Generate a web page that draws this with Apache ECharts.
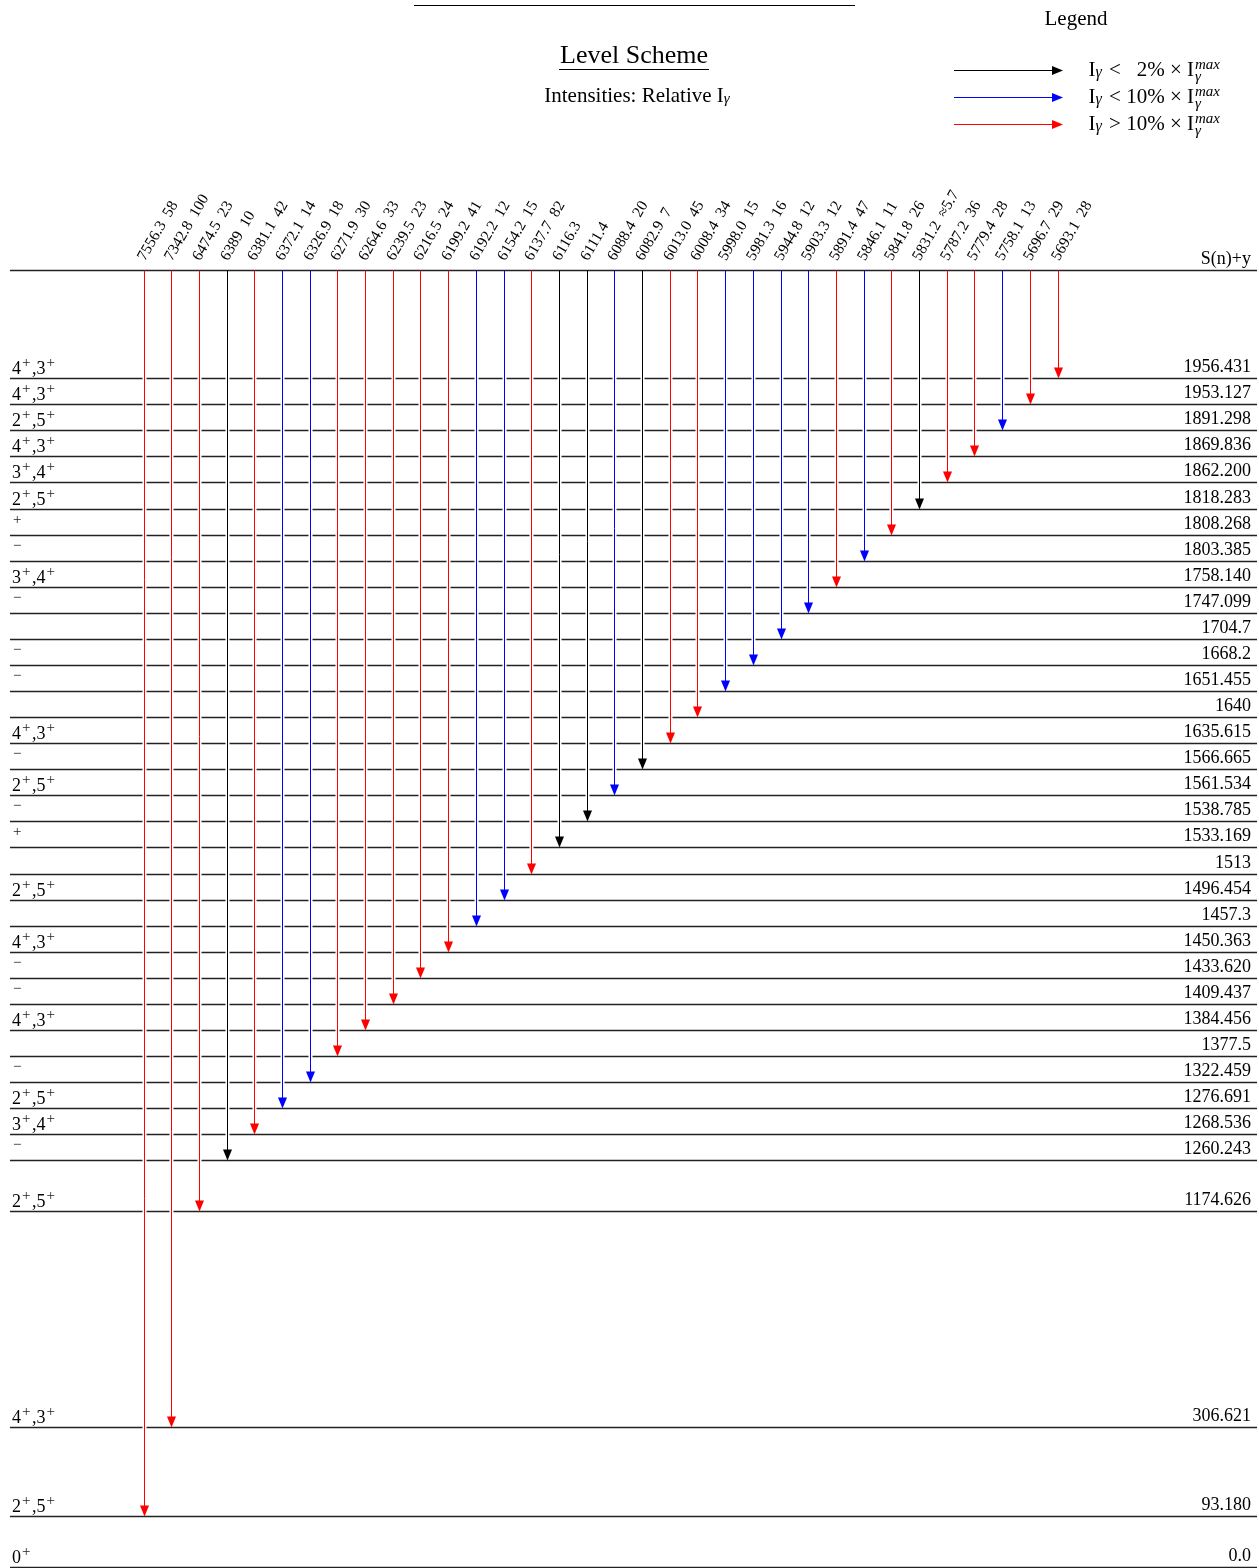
<!DOCTYPE html>
<html>
<head>
<meta charset="utf-8">
<script src="https://cdn.jsdelivr.net/npm/echarts@6/dist/echarts.min.js"></script>
<style>
  html, body { margin: 0; padding: 0; background: #fff; }
  #chart { width: 1259px; height: 1568px; }
</style>
</head>
<body>
<div id="chart"></div>
<script>
// levels, top to bottom; row = vertical slot in the scheme layout
const captureRow = -4.15
const levelEnergy = ['1956.431', '1953.127', '1891.298', '1869.836', '1862.200', '1818.283', '1808.268', '1803.385',
  '1758.140', '1747.099', '1704.7', '1668.2', '1651.455', '1640', '1635.615', '1566.665', '1561.534', '1538.785',
  '1533.169', '1513', '1496.454', '1457.3', '1450.363', '1433.620', '1409.437', '1384.456', '1377.5', '1322.459',
  '1276.691', '1268.536', '1260.243', '1174.626', '306.621', '93.180', '0.0']
const levelRow = [0, 1, 2, 3, 4, 5, 6, 7, 8, 9, 10, 11, 12, 13, 14, 15, 16, 17, 18, 19, 20, 21, 22, 23, 24, 25, 26,
  27, 28, 29, 30, 31.93, 40.21, 43.63, 45.61]
const levelSpin = ['4+,3+', '4+,3+', '2+,5+', '4+,3+', '3+,4+', '2+,5+', '+', '−', '3+,4+', '−', '', '−', '−', '',
  '4+,3+', '−', '2+,5+', '−', '+', '', '2+,5+', '', '4+,3+', '−', '−', '4+,3+', '', '−', '2+,5+', '3+,4+', '−',
  '2+,5+', '4+,3+', '2+,5+', '0+']

// gamma transitions, left to right
const gammaEnergy = ['7556.3', '7342.8', '6474.5', '6389', '6381.1', '6372.1', '6326.9', '6271.9', '6264.6', '6239.5',
  '6216.5', '6199.2', '6192.2', '6154.2', '6137.7', '6116.3', '6111.4', '6088.4', '6082.9', '6013.0', '6008.4',
  '5998.0', '5981.3', '5944.8', '5903.3', '5891.4', '5846.1', '5841.8', '5831.2', '5787.2', '5779.4', '5758.1',
  '5696.7', '5693.1']
const gammaIntensity = ['58', '100', '23', '10', '42', '14', '18', '30', '33', '23', '24', '41', '12', '15', '82', '',
  '', '20', '7', '45', '34', '15', '16', '12', '12', '47', '11', '26', '≈5.7', '36', '28', '13', '29', '28']
const gammaClass = ['hi', 'hi', 'hi', 'lo', 'hi', 'mid', 'mid', 'hi', 'hi', 'hi', 'hi', 'hi', 'mid', 'mid', 'hi', 'lo',
  'lo', 'mid', 'lo', 'hi', 'hi', 'mid', 'mid', 'mid', 'mid', 'hi', 'mid', 'hi', 'lo', 'hi', 'hi', 'mid', 'hi', 'hi']
const gammaFinal = ['93.180', '306.621', '1174.626', '1260.243', '1268.536', '1276.691', '1322.459', '1377.5',
  '1384.456', '1409.437', '1433.620', '1450.363', '1457.3', '1496.454', '1513', '1533.169', '1538.785', '1561.534',
  '1566.665', '1635.615', '1640', '1651.455', '1668.2', '1704.7', '1747.099', '1758.140', '1803.385', '1808.268',
  '1818.283', '1862.200', '1869.836', '1891.298', '1953.127', '1956.431']

const classColor = { lo: '#000000', mid: '#0000ff', hi: '#ff0000' }
const serif = '"Liberation Serif", "DejaVu Serif", serif'

const chart = echarts.init(document.getElementById('chart'))

// digits normal, parity signs as raised superscripts
function spinRich(s) {
  if (!s) return ''
  return s.split(/([+−])/).filter(Boolean).map(t => (t === '+' || t === '−') ? '{s|' + t + '}' : '{n|' + t + '}').join('')
}
const spinStyles = {
  n: { fontSize: 18, lineHeight: 18, fontFamily: serif, fill: '#000', verticalAlign: 'bottom' },
  s: { fontSize: 15, lineHeight: 15, fontFamily: serif, fill: '#222', verticalAlign: 'bottom', padding: [0, 1.5, 7.5, 1] }
}

function renderLevel(params, api) {
  const idx = api.value(1)
  const y = Math.round(api.coord([0, api.value(0)])[1]) + 0.5
  const cs = params.coordSys
  const children = [{
    type: 'line',
    shape: { x1: cs.x, y1: y, x2: cs.x + cs.width, y2: y },
    style: { stroke: '#222', lineWidth: 1.3 }
  }]
  const right = idx < 0 ? 'S(n)+y' : levelEnergy[idx]
  children.push({
    type: 'text', x: cs.x + cs.width - 6, y: y - 2,
    style: { text: right, font: '18px ' + serif, fill: '#000', align: 'right', verticalAlign: 'bottom' }
  })
  if (idx >= 0 && levelSpin[idx]) {
    children.push({
      type: 'text', x: cs.x + 2, y: y - 0.5,
      style: { text: spinRich(levelSpin[idx]), font: '18px ' + serif, fill: '#000', verticalAlign: 'bottom', rich: spinStyles }
    })
  }
  return { type: 'group', children }
}

function renderGamma(params, api) {
  const i = api.value(2)
  const top = api.coord([api.value(0), captureRow])
  const end = api.coord([api.value(0), api.value(1)])
  const x = Math.round(top[0]) + 0.5
  const y1 = Math.round(top[1]) + 0.5
  const y2 = Math.round(end[1]) + 0.5
  const col = classColor[gammaClass[i]]
  const label = gammaEnergy[i] + (gammaIntensity[i] ? '  ' + gammaIntensity[i] : '')
  return {
    type: 'group',
    children: [
      { type: 'line', shape: { x1: x, y1: y1 + 3, x2: x, y2: y2 - 14 }, style: { stroke: '#fff', lineWidth: 4 } },
      { type: 'line', shape: { x1: x, y1: y1, x2: x, y2: y2 - 9 }, style: { stroke: col, lineWidth: 1 } },
      { type: 'polygon', shape: { points: [[x - 4.5, y2 - 11], [x + 4.5, y2 - 11], [x, y2]] }, style: { fill: col } },
      {
        type: 'text', x: x + 4, y: y1 - 7, rotation: 60 * Math.PI / 180,
        style: { text: label, font: '15.5px ' + serif, fill: '#000', align: 'left', verticalAlign: 'bottom' }
      }
    ]
  }
}

function legendRow(y, color, text) {
  return [
    { type: 'line', shape: { x1: 954, y1: y, x2: 1053, y2: y }, style: { stroke: color, lineWidth: 1 } },
    { type: 'polygon', shape: { points: [[1052, y - 4.5], [1063, y], [1052, y + 4.5]] }, style: { fill: color } },
    {
      type: 'text', x: 1194, y: y,
      style: {
        text: text, font: '21px ' + serif, fill: '#000', align: 'right', verticalAlign: 'middle',
        rich: { g: { fontSize: 16, fontStyle: 'italic', fontFamily: serif, verticalAlign: 'bottom', padding: [0, 2, 0, 0] } }
      }
    },
    { type: 'text', x: 1195, y: y - 5, style: { text: 'max', font: 'italic 15px ' + serif, fill: '#000', verticalAlign: 'middle' } },
    { type: 'text', x: 1195, y: y + 7, style: { text: 'γ', font: 'italic 15px ' + serif, fill: '#000', verticalAlign: 'middle' } }
  ]
}

const levelData = [[captureRow, -1]].concat(levelRow.map((r, i) => [r, i]))
const gammaData = gammaEnergy.map((e, i) => [i, levelRow[levelEnergy.indexOf(gammaFinal[i])], i])

chart.setOption({
  animation: false,
  grid: { left: 10, right: 2, top: 270, bottom: 0.7 },
  xAxis: { type: 'value', min: -4.82, max: 40.2, show: false },
  yAxis: { type: 'value', inverse: true, min: captureRow, max: 45.61, show: false },
  graphic: [
    { type: 'line', shape: { x1: 414, y1: 5.5, x2: 855, y2: 5.5 }, style: { stroke: '#000', lineWidth: 1 } },
    { type: 'text', x: 634, y: 56, style: { text: 'Level Scheme', font: '26px ' + serif, fill: '#000', align: 'center', verticalAlign: 'middle' } },
    { type: 'line', shape: { x1: 559, y1: 69.5, x2: 709, y2: 69.5 }, style: { stroke: '#000', lineWidth: 1 } },
    {
      type: 'text', x: 637, y: 96,
      style: {
        text: 'Intensities: Relative I{g|γ}', font: '21px ' + serif, fill: '#000', align: 'center', verticalAlign: 'middle',
        rich: { g: { fontSize: 15, fontStyle: 'italic', fontFamily: serif, verticalAlign: 'bottom' } }
      }
    },
    { type: 'text', x: 1076, y: 19, style: { text: 'Legend', font: '21px ' + serif, fill: '#000', align: 'center', verticalAlign: 'middle' } },
    ...legendRow(70.5, '#000000', 'I{g|γ} <   2% × I'),
    ...legendRow(97.5, '#0000ff', 'I{g|γ} < 10% × I'),
    ...legendRow(124.5, '#ff0000', 'I{g|γ} > 10% × I')
  ],
  series: [
    { type: 'custom', name: 'levels', clip: false, renderItem: renderLevel, data: levelData },
    { type: 'custom', name: 'gammas', clip: false, renderItem: renderGamma, data: gammaData }
  ]
})
</script>
</body>
</html>
